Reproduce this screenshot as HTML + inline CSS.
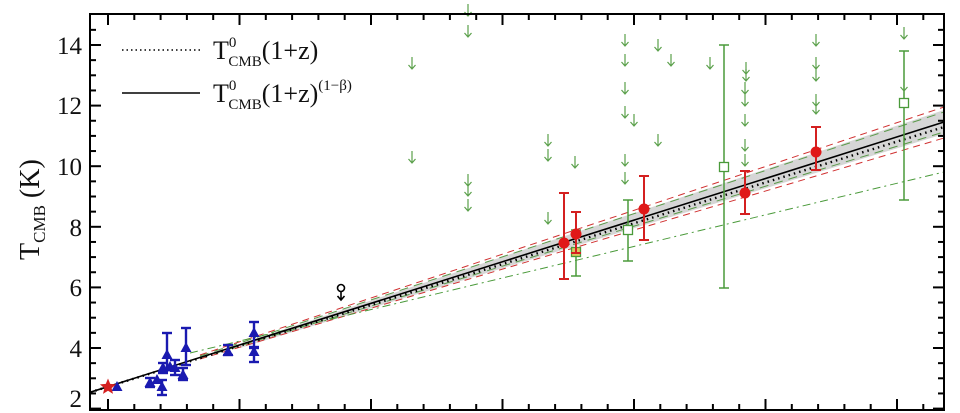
<!DOCTYPE html>
<html><head><meta charset="utf-8"><style>
html,body{margin:0;padding:0;background:#fff;width:960px;height:413px;overflow:hidden}
svg{display:block}
text{font-family:"Liberation Serif",serif;fill:#111}
</style></head><body>
<svg id="s" width="960" height="413" viewBox="0 0 960 413" xmlns="http://www.w3.org/2000/svg">
<!-- gray band -->
<polygon points="240,344 944,110 944,134 240,348" fill="#c8c8c8" opacity="0.75"/>
<!-- red dashed -->
<line x1="200" y1="355" x2="944" y2="107" stroke="#d03030" stroke-width="1" stroke-dasharray="7,5"/>
<line x1="200" y1="359" x2="944" y2="138" stroke="#d03030" stroke-width="1" stroke-dasharray="7,5"/>
<!-- green dashed -->
<line x1="200" y1="356" x2="944" y2="112" stroke="#5a9a4a" stroke-width="1" stroke-dasharray="9,6"/>
<line x1="200" y1="358" x2="944" y2="132" stroke="#5a9a4a" stroke-width="1" stroke-dasharray="9,6"/>
<!-- green dash-dot -->
<line x1="190" y1="353" x2="944" y2="172" stroke="#4a9a3a" stroke-width="1" stroke-dasharray="8,4,2,4"/>
<!-- main lines -->
<line x1="90" y1="392.3" x2="944" y2="122" stroke="#000" stroke-width="1.6"/>
<line x1="90" y1="392.3" x2="944" y2="127" stroke="#000" stroke-width="2.4" stroke-dasharray="1.5,4"/>
<g id="pts"></g>
<!-- frame -->
<rect x="90" y="14" width="854" height="396" fill="none" stroke="#000" stroke-width="2"/>
<g id="ticks" stroke="#000" stroke-width="2"></g>
<g font-size="25">
<text x="82" y="54" text-anchor="end">14</text>
<text x="82" y="114" text-anchor="end">12</text>
<text x="82" y="175" text-anchor="end">10</text>
<text x="82" y="236" text-anchor="end">8</text>
<text x="82" y="296" text-anchor="end">6</text>
<text x="82" y="357" text-anchor="end">4</text>
<text x="82" y="407" text-anchor="end">2</text>
</g>
<text transform="translate(39,260) rotate(-90)" font-size="28">T<tspan font-size="17" dy="6">CMB</tspan><tspan dy="-6"> (K)</tspan></text>
<!-- legend -->
<line x1="122" y1="50" x2="200" y2="50" stroke="#000" stroke-width="1.5" stroke-dasharray="1.5,3"/>
<text x="213" y="59" font-size="26">T<tspan font-size="15" dy="-12">0</tspan><tspan font-size="15" dx="-8" dy="19">CMB</tspan><tspan dy="-7">(1+z)</tspan></text>
<line x1="122" y1="93" x2="200" y2="93" stroke="#000" stroke-width="1.5"/>
<text x="213" y="102" font-size="26">T<tspan font-size="15" dy="-12">0</tspan><tspan font-size="15" dx="-8" dy="19">CMB</tspan><tspan dy="-7">(1+z)</tspan><tspan font-size="15" dy="-12">(1−β)</tspan></text>
</svg>
<script>
var NS="http://www.w3.org/2000/svg";
function el(p,t,a){var e=document.createElementNS(NS,t);for(var k in a)e.setAttribute(k,a[k]);p.appendChild(e);return e;}
var tk=document.getElementById('ticks');
for(var i=0;i<=33;i++){var x=108+i*26.3;if(x>943)break;var L=(i%5==0)?11:6;
el(tk,'line',{x1:x,y1:14,x2:x,y2:14+L});el(tk,'line',{x1:x,y1:410,x2:x,y2:410-L});}
for(var T=2;T<=15.01;T+=0.5){var y=45+(14-T)*30.3;if(y<15||y>409)continue;var L=(Math.abs(T%2)<0.01)?11:6;
el(tk,'line',{x1:90,y1:y,x2:90+L,y2:y});el(tk,'line',{x1:944,y1:y,x2:944-L,y2:y});}
var g=document.getElementById('pts');
function eb(x,y1,y2,c,w){el(g,'line',{x1:x,y1:y1,x2:x,y2:y2,stroke:c,'stroke-width':w});el(g,'line',{x1:x-5,y1:y1,x2:x+5,y2:y1,stroke:c,'stroke-width':w});el(g,'line',{x1:x-5,y1:y2,x2:x+5,y2:y2,stroke:c,'stroke-width':w});}
function tri(x,y){el(g,'polygon',{points:(x-5.5)+','+(y+4)+' '+(x+5.5)+','+(y+4)+' '+x+','+(y-6)});g.lastChild.setAttribute('fill','#1a1ab0');}
var B=[[117,387,0,0],[150,383,378,387],[162,387,380,395],[157,380,0,0],[163,368,363,373],[167,355,333,370],[170,367,0,0],[175,368,360,375],[183,375,368,380],[186,348,328,365],[228,352,345,355],[254,333,322,347],[254,352,348,362]];
B.forEach(function(b){if(b[2])eb(b[0],b[2],b[3],'#1a1ab0',2.4);tri(b[0],b[1]);});
var sp='';for(var k=0;k<10;k++){var r=k%2?3.8:8.5,a=-Math.PI/2+k*Math.PI/5;sp+=(108+r*Math.cos(a))+','+(387+r*Math.sin(a))+' ';}
el(g,'polygon',{points:sp,fill:'#d42020'});
var G=[[576,252,230,276],[628,230,200,261],[724,167,45,288],[904,103,51,200]];
G.forEach(function(p){eb(p[0],p[2],p[3],'#4a9a3a',1.5);el(g,'rect',{x:p[0]-4.5,y:p[1]-4.5,width:9,height:9,fill:p[0]==576?'#d8c860':'#fff',stroke:'#4a9a3a','stroke-width':1.3});});
var R=[[564,243,193,279],[576,234,212,253],[644,209,176,240],[745,193,171,214],[816,152,127,170]];
R.forEach(function(p){eb(p[0],p[2],p[3],'#d42020',2);el(g,'circle',{cx:p[0],cy:p[1],r:5.5,fill:'#e01818'});});
var A=[[412,63],[412,157],[468,10],[468,31],[468,180],[468,190],[468,205],[625,40],[625,60],[625,88],[625,112],[634,120],[625,160],[625,178],[658,45],[671,60],[710,63],[658,140],[548,140],[548,155],[575,162],[548,218],[746,68],[746,75],[745,88],[745,100],[745,120],[745,145],[745,160],[816,40],[816,63],[816,75],[816,100],[816,108],[904,33],[904,85]];
A.forEach(function(a){var x=a[0],y=a[1];el(g,'path',{d:'M'+x+','+(y-6)+' L'+x+','+(y+6)+' M'+(x-3.5)+','+(y+2)+' L'+x+','+(y+6)+' L'+(x+3.5)+','+(y+2),stroke:'#5aa04a','stroke-width':1.2,fill:'none'});});
el(g,'circle',{cx:341,cy:288,r:3.5,fill:'none',stroke:'#000','stroke-width':1.6});
el(g,'path',{d:'M341,291.5 L341,300 M337.5,296 L341,300 L344.5,296',stroke:'#000','stroke-width':1.6,fill:'none'});
</script>
</body></html>
